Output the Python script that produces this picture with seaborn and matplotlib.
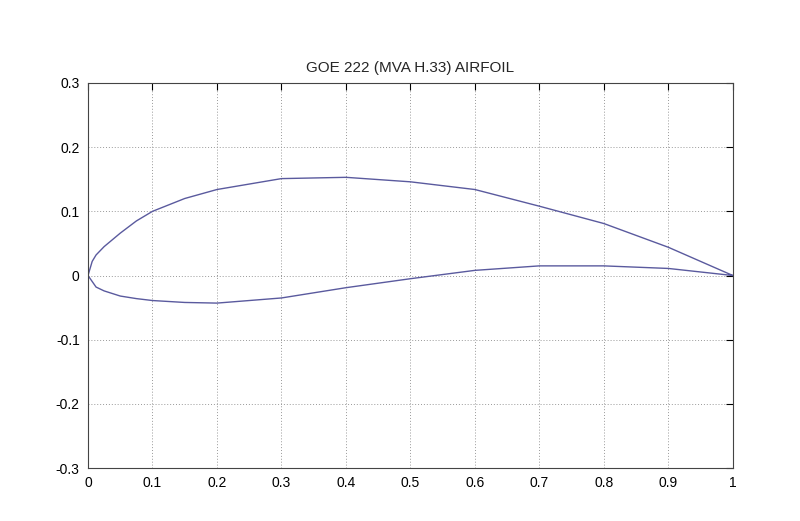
import numpy as np
import pandas as pd
import seaborn as sns
import matplotlib
matplotlib.use("Agg")
import matplotlib.pyplot as plt

# Airfoil coordinates
upper_x = [0.0, 0.0065, 0.0125, 0.025, 0.05, 0.075, 0.1, 0.15, 0.2, 0.3, 0.4, 0.5, 0.6, 0.7, 0.8, 0.9, 1.0]
upper_y = [0.0, 0.022, 0.032, 0.045, 0.066, 0.085, 0.100, 0.120, 0.134, 0.151, 0.153, 0.146, 0.134, 0.108, 0.081, 0.044, 0.0]
lower_x = [0.0, 0.0125, 0.025, 0.05, 0.075, 0.1, 0.15, 0.2, 0.3, 0.4, 0.5, 0.6, 0.7, 0.8, 0.9, 1.0]
lower_y = [0.0, -0.018, -0.024, -0.032, -0.036, -0.039, -0.042, -0.043, -0.035, -0.019, -0.005, 0.008, 0.015, 0.015, 0.011, 0.0]
x_ticks = [0, 0.1, 0.2, 0.3, 0.4, 0.5, 0.6, 0.7, 0.8, 0.9, 1]
x_tick_labels = ["0", "0.1", "0.2", "0.3", "0.4", "0.5", "0.6", "0.7", "0.8", "0.9", "1"]
y_ticks = [-0.3, -0.2, -0.1, 0, 0.1, 0.2, 0.3]
y_tick_labels = ["-0.3", "-0.2", "-0.1", "0", "0.1", "0.2", "0.3"]
title = "GOE 222 (MVA H.33) AIRFOIL"

sns.set_style("white")
plt.rcParams['font.family'] = ['Liberation Sans', 'DejaVu Sans']

# closed contour: upper surface from TE to LE, then lower surface LE to TE
xs = list(reversed(upper_x)) + lower_x[1:]
ys = list(reversed(upper_y)) + lower_y[1:]
df = pd.DataFrame({"x": xs, "y": ys})

fig = plt.figure(figsize=(8.0, 5.21), dpi=100)
ax = fig.add_axes([0.11, 0.1017, 0.806, 0.739])
sns.lineplot(data=df, x="x", y="y", sort=False, estimator=None, ax=ax,
             color="#5a5a9e", linewidth=1.0)

ax.set_xlim(0, 1)
ax.set_ylim(-0.3, 0.3)
ax.set_xticks(x_ticks)
ax.set_xticklabels(x_tick_labels)
ax.set_yticks(y_ticks)
ax.set_yticklabels(y_tick_labels)
ax.set_xlabel("")
ax.set_ylabel("")
ax.grid(True, linestyle=(0, (1, 2)), color="#999999", linewidth=0.7)
ax.tick_params(direction="in", top=True, right=True, length=5, width=0.8,
               labelsize=10, colors="black", pad=6)
for s in ax.spines.values():
    s.set_visible(True)
    s.set_color("#444444")
    s.set_linewidth(0.8)
ax.set_title(title, fontsize=11, pad=8)

fig.savefig("out.png", dpi=100, facecolor="white")
